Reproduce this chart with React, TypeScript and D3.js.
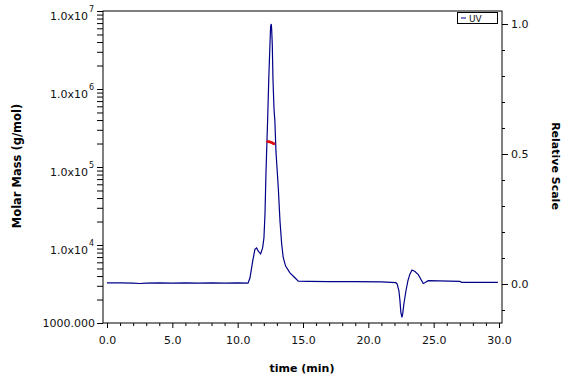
import React, { useEffect, useRef } from 'react';
import * as d3 from 'd3';

const width = 576;
const height = 384;
const frame = { left: 103, right: 502, top: 11, bottom: 323 };

// UV trace, relative scale vs elution time (min)
const uvTime = [
  0.0, 1.0, 2.0, 2.5, 3.0, 4.0, 5.0, 6.0, 7.0, 8.0, 9.0, 10.0, 10.79, 10.94,
  11.15, 11.32, 11.45, 11.58, 11.76, 11.91, 12.01, 12.09, 12.17, 12.24, 12.29,
  12.34, 12.39, 12.47, 12.52, 12.57, 12.6, 12.65, 12.7, 12.78, 12.85, 12.93,
  13.11, 13.24, 13.37, 13.49, 13.67, 14.0, 14.38, 14.64, 15.5, 17.0, 19.0,
  21.0, 22.11, 22.21, 22.34, 22.42, 22.49, 22.57, 22.63, 22.72, 22.88, 23.03,
  23.18, 23.34, 23.57, 23.82, 24.01, 24.2, 24.35, 24.58, 27.01, 27.14, 29.92,
];
const uvValue = [
  0.004, 0.004, 0.003, 0.002, 0.003, 0.004, 0.003, 0.004, 0.003, 0.004, 0.003,
  0.004, 0.003, 0.023, 0.088, 0.133, 0.139, 0.126, 0.116, 0.139, 0.177, 0.268,
  0.433, 0.548, 0.625, 0.714, 0.805, 0.92, 0.99, 1.0, 0.982, 0.92, 0.79, 0.675,
  0.625, 0.51, 0.369, 0.241, 0.153, 0.101, 0.069, 0.043, 0.024, 0.011, 0.01,
  0.009, 0.009, 0.008, 0.005, 0.0, -0.026, -0.064, -0.109, -0.128, -0.115,
  -0.077, -0.026, 0.013, 0.038, 0.054, 0.048, 0.036, 0.019, 0.002, 0.006,
  0.013, 0.01, 0.006, 0.006,
];

// molar mass across the main peak (g/mol)
const massTime = [
  12.29, 12.34, 12.39, 12.44, 12.49, 12.54, 12.59, 12.64, 12.69, 12.74, 12.78,
];
const massValue = [
  2.12e5, 2.11e5, 2.1e5, 2.1e5, 2.09e5, 2.08e5, 2.06e5, 2.04e5, 2.02e5, 2.0e5,
  1.98e5,
];

const timeTicks = [0, 5, 10, 15, 20, 25, 30];
const massTicks = [1e3, 1e4, 1e5, 1e6, 1e7];
const scaleTicks = [0, 0.5, 1.0];

const font = '"DejaVu Sans", Verdana, sans-serif';
const uvColor = '#000088';
const massColor = '#e01010';

export default function App() {
  const ref = useRef<SVGSVGElement>(null);

  useEffect(() => {
    document.body.style.margin = '0';
    if (!ref.current) return;
    const svg = d3.select(ref.current);
    svg.selectAll('*').remove();

    const x = d3.scaleLinear().domain([0, 30]).range([107, 499]);
    const yMass = d3
      .scaleLog()
      .domain([1e3, 1e7])
      .range([frame.bottom, frame.top]);
    const yRel = d3
      .scaleLinear()
      .domain([-0.15, 1.05])
      .range([frame.bottom, frame.top]);

    // x axis: minor every minute, major every 5
    const minorTime = d3.range(0, 31).filter((t) => t % 5 !== 0);
    const gxMinor = svg
      .append('g')
      .attr('transform', `translate(0,${frame.bottom})`)
      .call(d3.axisBottom(x).tickValues(minorTime).tickSize(3).tickFormat(() => ''));
    gxMinor.select('.domain').remove();

    const gx = svg
      .append('g')
      .attr('transform', `translate(0,${frame.bottom})`)
      .call(
        d3
          .axisBottom(x)
          .tickValues(timeTicks)
          .tickSize(5)
          .tickPadding(8)
          .tickFormat((d) => d3.format('.1f')(d as number))
      );
    gx.select('.domain').remove();
    gx.selectAll('text')
      .attr('font-family', font)
      .attr('font-size', 11)
      .attr('fill', '#111');

    // left log axis, all ticks same length
    const logTicks: number[] = [];
    massTicks.forEach((d, i) => {
      if (i === massTicks.length - 1) {
        logTicks.push(d);
        return;
      }
      for (let k = 1; k < 10; k++) logTicks.push(d * k);
    });
    const gy = svg
      .append('g')
      .attr('transform', `translate(${frame.left},0)`)
      .call(d3.axisLeft(yMass).tickValues(logTicks).tickSize(6).tickFormat(() => ''));
    gy.select('.domain').remove();

    const massLabels = svg
      .append('g')
      .attr('font-family', font)
      .attr('font-size', 11)
      .attr('fill', '#111');
    massTicks.forEach((d) => {
      const py = yMass(d);
      if (d === 1e3) {
        massLabels
          .append('text')
          .attr('x', 95)
          .attr('y', py + 4)
          .attr('text-anchor', 'end')
          .text('1000.000');
        return;
      }
      const exp = Math.round(Math.log10(d));
      massLabels
        .append('text')
        .attr('x', 88)
        .attr('y', py + 9)
        .attr('text-anchor', 'end')
        .text('1.0x10');
      massLabels
        .append('text')
        .attr('x', 89)
        .attr('y', py + 1)
        .attr('font-size', 8)
        .text(String(exp));
    });

    // right relative scale axis
    const relMinor = d3
      .range(-1, 11)
      .map((k) => k / 10)
      .filter((v) => Math.abs(v * 2 - Math.round(v * 2)) > 1e-6);
    const grMinor = svg
      .append('g')
      .attr('transform', `translate(${frame.right},0)`)
      .call(d3.axisRight(yRel).tickValues(relMinor).tickSize(3).tickFormat(() => ''));
    grMinor.select('.domain').remove();
    const gr = svg
      .append('g')
      .attr('transform', `translate(${frame.right},0)`)
      .call(
        d3
          .axisRight(yRel)
          .tickValues(scaleTicks)
          .tickSize(6)
          .tickPadding(3)
          .tickFormat((d) => d3.format('.1f')(d as number))
      );
    gr.select('.domain').remove();
    gr.selectAll('text')
      .attr('font-family', font)
      .attr('font-size', 11)
      .attr('fill', '#111');

    // plot frame
    svg
      .append('rect')
      .attr('x', frame.left)
      .attr('y', frame.top)
      .attr('width', frame.right - frame.left)
      .attr('height', frame.bottom - frame.top)
      .attr('fill', 'none')
      .attr('stroke', '#000')
      .attr('stroke-width', 1);

    // UV trace
    const line = d3
      .line<number>()
      .x((_, i) => x(uvTime[i]))
      .y((v) => yRel(v));
    svg
      .append('path')
      .datum(uvValue)
      .attr('d', line)
      .attr('fill', 'none')
      .attr('stroke', uvColor)
      .attr('stroke-width', 1.2);

    // molar mass points
    svg
      .append('g')
      .selectAll('circle')
      .data(massValue)
      .enter()
      .append('circle')
      .attr('cx', (_, i) => x(massTime[i]))
      .attr('cy', (d) => yMass(d))
      .attr('r', 1.3)
      .attr('fill', massColor);

    // legend
    const lg = svg.append('g');
    lg.append('rect')
      .attr('x', 457.5)
      .attr('y', 12.5)
      .attr('width', 40)
      .attr('height', 11)
      .attr('fill', '#fff')
      .attr('stroke', '#000');
    lg.append('line')
      .attr('x1', 461)
      .attr('x2', 466)
      .attr('y1', 18)
      .attr('y2', 18)
      .attr('stroke', uvColor);
    lg.append('text')
      .attr('x', 469)
      .attr('y', 21.5)
      .attr('font-family', font)
      .attr('font-size', 9)
      .attr('fill', '#111')
      .text('UV');

    // axis titles
    svg
      .append('text')
      .attr('transform', `translate(21,166) rotate(-90)`)
      .attr('text-anchor', 'middle')
      .attr('font-family', font)
      .attr('font-weight', 'bold')
      .attr('font-size', 11.5)
      .text('Molar Mass (g/mol)');
    svg
      .append('text')
      .attr('transform', `translate(552,166) rotate(90)`)
      .attr('text-anchor', 'middle')
      .attr('font-family', font)
      .attr('font-weight', 'bold')
      .attr('font-size', 11)
      .text('Relative Scale');
    svg
      .append('text')
      .attr('x', 302)
      .attr('y', 372)
      .attr('text-anchor', 'middle')
      .attr('font-family', font)
      .attr('font-weight', 'bold')
      .attr('font-size', 11)
      .text('time (min)');
  }, []);

  return (
    <svg
      ref={ref}
      width={width}
      height={height}
      style={{ display: 'block', background: '#fff' }}
    />
  );
}
